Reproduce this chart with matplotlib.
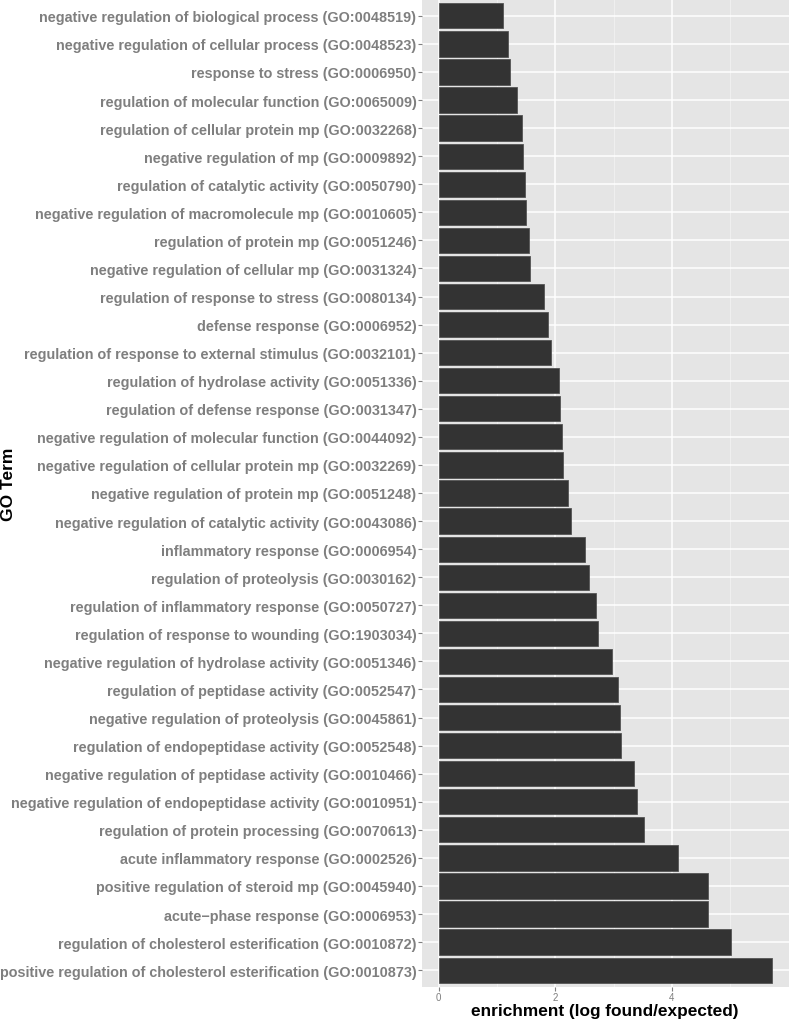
import numpy as np
import matplotlib
matplotlib.use("Agg")
import matplotlib.pyplot as plt
from matplotlib.ticker import MultipleLocator

# GO terms, top to bottom as in the figure
terms = [
    "negative regulation of biological process (GO:0048519)",
    "negative regulation of cellular process (GO:0048523)",
    "response to stress (GO:0006950)",
    "regulation of molecular function (GO:0065009)",
    "regulation of cellular protein mp (GO:0032268)",
    "negative regulation of mp (GO:0009892)",
    "regulation of catalytic activity (GO:0050790)",
    "negative regulation of macromolecule mp (GO:0010605)",
    "regulation of protein mp (GO:0051246)",
    "negative regulation of cellular mp (GO:0031324)",
    "regulation of response to stress (GO:0080134)",
    "defense response (GO:0006952)",
    "regulation of response to external stimulus (GO:0032101)",
    "regulation of hydrolase activity (GO:0051336)",
    "regulation of defense response (GO:0031347)",
    "negative regulation of molecular function (GO:0044092)",
    "negative regulation of cellular protein mp (GO:0032269)",
    "negative regulation of protein mp (GO:0051248)",
    "negative regulation of catalytic activity (GO:0043086)",
    "inflammatory response (GO:0006954)",
    "regulation of proteolysis (GO:0030162)",
    "regulation of inflammatory response (GO:0050727)",
    "regulation of response to wounding (GO:1903034)",
    "negative regulation of hydrolase activity (GO:0051346)",
    "regulation of peptidase activity (GO:0052547)",
    "negative regulation of proteolysis (GO:0045861)",
    "regulation of endopeptidase activity (GO:0052548)",
    "negative regulation of peptidase activity (GO:0010466)",
    "negative regulation of endopeptidase activity (GO:0010951)",
    "regulation of protein processing (GO:0070613)",
    "acute inflammatory response (GO:0002526)",
    "positive regulation of steroid mp (GO:0045940)",
    "acute\u2212phase response (GO:0006953)",
    "regulation of cholesterol esterification (GO:0010872)",
    "positive regulation of cholesterol esterification (GO:0010873)",
]
enrichment = [
    1.10, 1.18, 1.22, 1.35, 1.43, 1.44, 1.48, 1.50, 1.54, 1.56,
    1.80, 1.87, 1.92, 2.07, 2.08, 2.11, 2.13, 2.22, 2.27, 2.50,
    2.58, 2.69, 2.73, 2.97, 3.08, 3.11, 3.12, 3.35, 3.40, 3.52,
    4.10, 4.62, 4.62, 5.02, 5.72,
]
xticks = [0, 2, 4]

grey = "#7F7F7F"
plt.rcParams['font.family'] = ['Liberation Sans', 'DejaVu Sans']

fig = plt.figure(figsize=(7.89, 10.2), dpi=100)
ax = fig.add_axes([422 / 789, 32 / 1020, 1 - 422 / 789, 1 - 32 / 1020])
ax.set_facecolor("#E5E5E5")

n = len(terms)
ypos = np.arange(n)[::-1]
ax.barh(ypos, enrichment, height=0.9, color="#333333", edgecolor="#555555",
        linewidth=0.6, zorder=3)

vmax = max(enrichment)
ax.set_xlim(-0.05 * vmax, 1.05 * vmax)
ax.set_ylim(-0.6, n - 0.4)

ax.set_xticks(xticks)
ax.set_xticklabels([str(t) for t in xticks])
ax.xaxis.set_minor_locator(MultipleLocator(1))
ax.set_yticks(ypos)
ax.set_yticklabels(terms)

ax.grid(which="major", color="white", linewidth=1.1, zorder=1)
ax.grid(which="minor", axis="x", color="#F2F2F2", linewidth=0.6, zorder=1)
ax.set_axisbelow(True)
for s in ax.spines.values():
    s.set_visible(False)

ax.tick_params(axis="y", labelsize=10.4, labelcolor=grey, color=grey,
               length=3, width=0.8, pad=1)
for lab in ax.get_yticklabels():
    lab.set_fontweight("bold")
ax.tick_params(axis="x", which="major", labelsize=7, labelcolor=grey,
               color=grey, length=3, width=0.8, pad=0.5)
ax.tick_params(axis="x", which="minor", length=0)

fig.text(605 / 789, 1 - 1012 / 1020, "enrichment (log found/expected)",
         fontsize=12.4, fontweight="bold", ha="center", va="center")
fig.text(9 / 789, 1 - 484 / 1020, "GO Term", rotation=90, fontsize=12.5,
         fontweight="bold", ha="center", va="center")

fig.savefig("out.png", dpi=100)
